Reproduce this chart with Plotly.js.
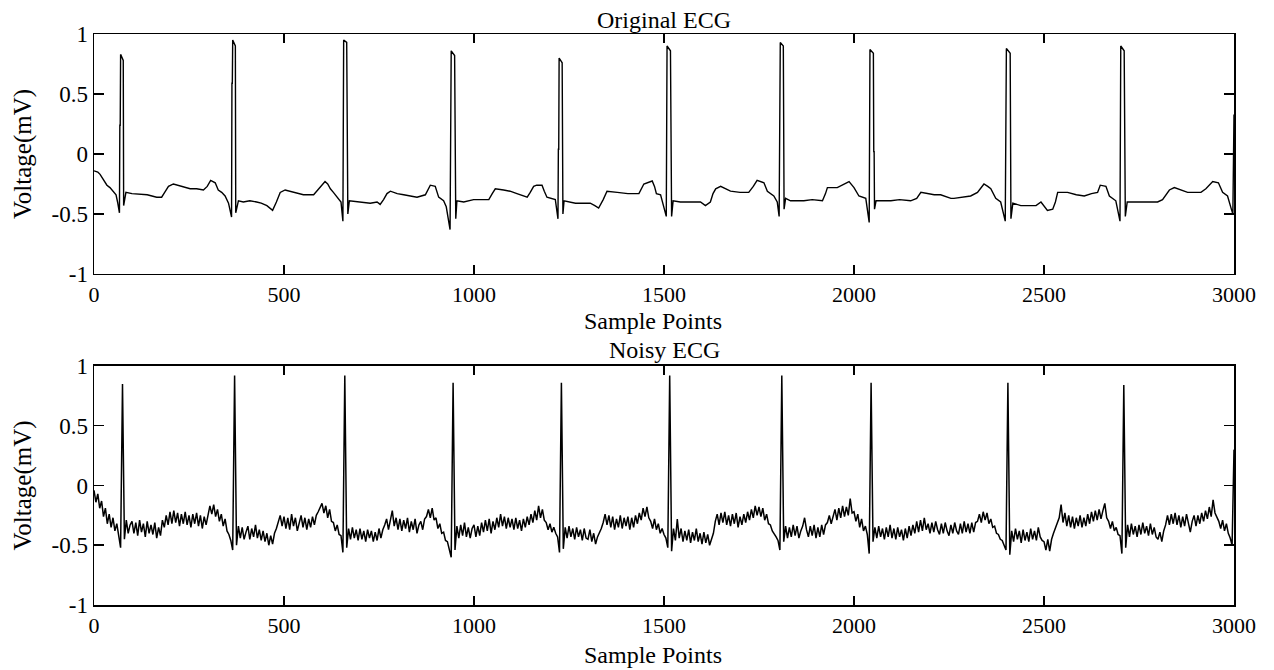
<!DOCTYPE html>
<html><head><meta charset="utf-8">
<script src="https://cdn.plot.ly/plotly-3.0.1.min.js"></script>
<style>html,body{margin:0;padding:0;background:#fff;}#chart{width:1274px;height:670px;}</style>
</head><body><div id="chart"></div>
<script>
const originalTitle = 'Original ECG';
const noisyTitle = 'Noisy ECG';
const xTitle = 'Sample Points';
const yTitle = 'Voltage(mV)';
const xTickVals = [0, 500, 1000, 1500, 2000, 2500, 3000];
const xTickText = ['0', '500', '1000', '1500', '2000', '2500', '3000'];
const yTickVals = [-1, -0.5, 0, 0.5, 1];
const yTickText = ['-1', '-0.5', '0', '0.5', '1'];

// Original ECG: key points (sample index, mV)
const origX = [
  0, 10, 16, 25, 34, 42, 50, 58, 62, 67, 68, 69, 70, 77, 78, 81, 84, 100, 121, 140, 165, 178, 186, 196, 209, 230, 253, 270, 288, 298,
  307, 319, 327, 336, 345, 354, 362, 363, 364, 365, 372, 373, 377, 380, 393, 410, 428, 440, 455, 470, 480, 490, 503, 516, 535, 551, 578, 586, 595, 608,
  615, 622, 630, 639, 650, 655, 657, 665, 666, 667, 668, 672, 701, 727, 745, 753, 762, 771, 780, 798, 815, 832, 850, 872, 880, 885, 898, 903, 907, 920,
  927, 937, 940, 949, 950, 951, 952, 955, 973, 999, 1020, 1039, 1048, 1056, 1078, 1095, 1113, 1140, 1148, 1157, 1165, 1179, 1185, 1192, 1214, 1221, 1222, 1223, 1224, 1232,
  1234, 1237, 1267, 1306, 1318, 1328, 1340, 1350, 1377, 1405, 1434, 1442, 1447, 1469, 1475, 1480, 1491, 1506, 1508, 1517, 1518, 1519, 1520, 1524, 1543, 1570, 1596, 1609, 1622, 1629,
  1636, 1649, 1675, 1700, 1723, 1735, 1745, 1763, 1772, 1789, 1798, 1803, 1804, 1805, 1806, 1814, 1816, 1820, 1833, 1850, 1868, 1890, 1917, 1925, 1930, 1956, 1975, 1987, 2000, 2013,
  2031, 2040, 2042, 2051, 2052, 2053, 2054, 2058, 2097, 2120, 2149, 2165, 2176, 2211, 2228, 2255, 2263, 2285, 2307, 2325, 2342, 2352, 2360, 2373, 2386, 2398, 2399, 2400, 2401, 2411,
  2413, 2418, 2439, 2460, 2479, 2492, 2500, 2509, 2523, 2530, 2536, 2562, 2585, 2606, 2625, 2641, 2648, 2663, 2672, 2689, 2700, 2702, 2711, 2712, 2713, 2714, 2719, 2742, 2770, 2799,
  2812, 2830, 2843, 2878, 2913, 2926, 2944, 2959, 2970, 2983, 2994, 2997, 3000
];
const origY = [
  -0.14, -0.15, -0.17, -0.22, -0.26, -0.28, -0.31, -0.34, -0.40, -0.49, 0.24, 0.24, 0.83, 0.78, -0.43, -0.38, -0.32, -0.33, -0.335, -0.34, -0.36, -0.36, -0.32, -0.27, -0.25, -0.27, -0.29, -0.29, -0.30, -0.27,
  -0.22, -0.24, -0.30, -0.32, -0.35, -0.41, -0.525, 0.59, 0.59, 0.95, 0.90, -0.49, -0.42, -0.39, -0.40, -0.39, -0.40, -0.41, -0.43, -0.47, -0.40, -0.32, -0.30, -0.31, -0.33, -0.34, -0.34, -0.31, -0.27, -0.23,
  -0.25, -0.29, -0.32, -0.36, -0.40, -0.56, 0.95, 0.93, 0.22, 0.22, -0.50, -0.39, -0.40, -0.41, -0.40, -0.42, -0.38, -0.33, -0.31, -0.33, -0.34, -0.35, -0.36, -0.34, -0.29, -0.26, -0.27, -0.32, -0.36, -0.39,
  -0.44, -0.63, 0.86, 0.82, -0.12, -0.12, -0.54, -0.39, -0.40, -0.38, -0.38, -0.38, -0.33, -0.29, -0.30, -0.31, -0.33, -0.36, -0.32, -0.27, -0.26, -0.26, -0.31, -0.36, -0.38, -0.54, 0.04, 0.04, 0.80, 0.76,
  -0.50, -0.39, -0.41, -0.41, -0.43, -0.45, -0.38, -0.31, -0.32, -0.33, -0.33, -0.28, -0.25, -0.225, -0.27, -0.33, -0.34, -0.52, 0.90, 0.86, 0.40, 0.40, -0.52, -0.39, -0.40, -0.40, -0.40, -0.43, -0.40, -0.33,
  -0.29, -0.27, -0.31, -0.32, -0.32, -0.27, -0.22, -0.24, -0.31, -0.35, -0.40, -0.52, 0.40, 0.40, 0.93, 0.90, -0.46, -0.37, -0.39, -0.39, -0.39, -0.38, -0.39, -0.33, -0.28, -0.28, -0.25, -0.23, -0.28, -0.35,
  -0.37, -0.57, 0.87, 0.84, 0.02, 0.02, -0.46, -0.39, -0.39, -0.38, -0.39, -0.37, -0.32, -0.34, -0.34, -0.37, -0.37, -0.36, -0.35, -0.32, -0.25, -0.27, -0.29, -0.37, -0.40, -0.56, 0.09, 0.09, 0.88, 0.84,
  -0.54, -0.41, -0.43, -0.43, -0.43, -0.40, -0.43, -0.47, -0.46, -0.40, -0.32, -0.32, -0.34, -0.35, -0.33, -0.32, -0.26, -0.27, -0.35, -0.39, -0.56, 0.90, 0.86, -0.11, -0.11, -0.52, -0.40, -0.40, -0.40, -0.40,
  -0.38, -0.30, -0.28, -0.32, -0.32, -0.29, -0.23, -0.24, -0.32, -0.35, -0.47, -0.50, 0.33
];

// Noisy ECG: values read every 5 samples from the picture (mV)
const noisyStep = 5;
const noisyY = [
  -0.04, -0.14, -0.07, -0.19, -0.13, -0.26, -0.19, -0.32, -0.24, -0.35, -0.27, -0.38, -0.32, -0.41, -0.52, 0.85, -0.45, -0.29, -0.40, -0.33,
  -0.30, -0.40, -0.31, -0.42, -0.29, -0.39, -0.32, -0.43, -0.30, -0.40, -0.33, -0.41, -0.31, -0.44, -0.35, -0.42, -0.29, -0.35, -0.25, -0.33,
  -0.22, -0.32, -0.21, -0.31, -0.23, -0.34, -0.24, -0.32, -0.22, -0.33, -0.25, -0.35, -0.24, -0.32, -0.23, -0.34, -0.25, -0.36, -0.26, -0.33,
  -0.25, -0.17, -0.24, -0.16, -0.26, -0.20, -0.30, -0.24, -0.34, -0.28, -0.38, -0.41, -0.46, -0.54, 0.92, -0.50, -0.34, -0.44, -0.35, -0.45,
  -0.39, -0.34, -0.45, -0.36, -0.43, -0.33, -0.44, -0.37, -0.46, -0.38, -0.47, -0.40, -0.50, -0.42, -0.49, -0.40, -0.36, -0.30, -0.25, -0.34,
  -0.26, -0.36, -0.27, -0.37, -0.24, -0.34, -0.27, -0.38, -0.30, -0.25, -0.35, -0.27, -0.37, -0.28, -0.35, -0.26, -0.33, -0.25, -0.22, -0.18,
  -0.15, -0.23, -0.17, -0.27, -0.20, -0.30, -0.31, -0.38, -0.33, -0.41, -0.42, -0.56, 0.92, -0.52, -0.36, -0.45, -0.35, -0.44, -0.37, -0.46,
  -0.36, -0.45, -0.38, -0.47, -0.37, -0.44, -0.38, -0.47, -0.39, -0.46, -0.36, -0.44, -0.37, -0.33, -0.28, -0.37, -0.29, -0.21, -0.34, -0.27,
  -0.37, -0.28, -0.38, -0.29, -0.36, -0.27, -0.39, -0.30, -0.37, -0.28, -0.40, -0.33, -0.30, -0.37, -0.28, -0.26, -0.20, -0.27, -0.19, -0.29,
  -0.27, -0.36, -0.32, -0.40, -0.39, -0.46, -0.47, -0.53, -0.60, 0.86, -0.54, -0.34, -0.44, -0.33, -0.42, -0.31, -0.43, -0.35, -0.44, -0.36,
  -0.33, -0.43, -0.34, -0.42, -0.31, -0.39, -0.29, -0.38, -0.28, -0.40, -0.30, -0.37, -0.27, -0.35, -0.24, -0.34, -0.26, -0.36, -0.27, -0.35,
  -0.28, -0.37, -0.27, -0.36, -0.29, -0.38, -0.28, -0.35, -0.26, -0.33, -0.24, -0.31, -0.21, -0.29, -0.17, -0.27, -0.20, -0.29, -0.31, -0.37,
  -0.32, -0.39, -0.35, -0.40, -0.43, -0.56, 0.86, -0.53, -0.35, -0.44, -0.34, -0.43, -0.36, -0.45, -0.35, -0.43, -0.37, -0.46, -0.36, -0.44,
  -0.45, -0.37, -0.47, -0.40, -0.49, -0.43, -0.40, -0.36, -0.31, -0.24, -0.33, -0.25, -0.35, -0.26, -0.37, -0.28, -0.35, -0.25, -0.36, -0.27,
  -0.34, -0.26, -0.37, -0.27, -0.35, -0.25, -0.32, -0.23, -0.29, -0.19, -0.26, -0.18, -0.27, -0.30, -0.36, -0.28, -0.37, -0.32, -0.40, -0.36,
  -0.41, -0.44, -0.52, 0.92, -0.55, -0.36, -0.46, -0.28, -0.44, -0.36, -0.47, -0.38, -0.46, -0.37, -0.48, -0.39, -0.46, -0.36, -0.47, -0.40,
  -0.49, -0.39, -0.48, -0.41, -0.50, -0.45, -0.40, -0.30, -0.24, -0.33, -0.23, -0.31, -0.22, -0.33, -0.25, -0.34, -0.24, -0.32, -0.23, -0.35,
  -0.26, -0.33, -0.24, -0.31, -0.22, -0.29, -0.20, -0.27, -0.17, -0.25, -0.18, -0.26, -0.19, -0.29, -0.24, -0.32, -0.33, -0.38, -0.40, -0.43,
  -0.46, -0.54, 0.92, -0.47, -0.34, -0.44, -0.35, -0.43, -0.33, -0.42, -0.34, -0.44, -0.38, -0.34, -0.27, -0.37, -0.43, -0.34, -0.42, -0.33,
  -0.44, -0.35, -0.43, -0.33, -0.41, -0.33, -0.31, -0.25, -0.32, -0.26, -0.20, -0.29, -0.19, -0.27, -0.17, -0.26, -0.18, -0.25, -0.11, -0.23,
  -0.22, -0.30, -0.24, -0.35, -0.28, -0.38, -0.34, -0.41, -0.57, 0.86, -0.47, -0.35, -0.44, -0.34, -0.43, -0.36, -0.45, -0.35, -0.43, -0.33,
  -0.44, -0.36, -0.45, -0.35, -0.43, -0.37, -0.46, -0.36, -0.44, -0.34, -0.42, -0.33, -0.40, -0.30, -0.39, -0.29, -0.38, -0.27, -0.37, -0.32,
  -0.40, -0.31, -0.39, -0.30, -0.37, -0.41, -0.32, -0.40, -0.31, -0.38, -0.42, -0.33, -0.40, -0.31, -0.38, -0.41, -0.32, -0.40, -0.30, -0.39,
  -0.32, -0.40, -0.31, -0.39, -0.31, -0.30, -0.24, -0.31, -0.22, -0.29, -0.23, -0.32, -0.28, -0.35, -0.34, -0.40, -0.41, -0.45, -0.46, -0.50,
  -0.54, 0.86, -0.58, -0.38, -0.47, -0.36, -0.45, -0.38, -0.48, -0.37, -0.46, -0.39, -0.47, -0.36, -0.45, -0.38, -0.46, -0.35, -0.43, -0.46,
  -0.47, -0.54, -0.45, -0.55, -0.45, -0.40, -0.36, -0.31, -0.27, -0.16, -0.31, -0.23, -0.34, -0.25, -0.35, -0.26, -0.36, -0.27, -0.34, -0.25,
  -0.35, -0.27, -0.34, -0.24, -0.32, -0.22, -0.30, -0.21, -0.29, -0.20, -0.28, -0.21, -0.15, -0.27, -0.30, -0.36, -0.30, -0.38, -0.35, -0.41,
  -0.42, -0.57, 0.84, -0.52, -0.33, -0.43, -0.32, -0.41, -0.34, -0.43, -0.33, -0.41, -0.31, -0.40, -0.34, -0.42, -0.32, -0.41, -0.35, -0.43,
  -0.45, -0.39, -0.47, -0.38, -0.33, -0.25, -0.33, -0.24, -0.32, -0.23, -0.33, -0.25, -0.35, -0.26, -0.34, -0.24, -0.31, -0.39, -0.30, -0.25,
  -0.34, -0.25, -0.32, -0.23, -0.30, -0.21, -0.28, -0.18, -0.26, -0.12, -0.23, -0.26, -0.30, -0.36, -0.29, -0.38, -0.32, -0.40, -0.44, -0.50,
  0.30
];
const noisyX = noisyY.map((_, i) => i * noisyStep);

const FONT = 'Liberation Serif, Times New Roman, serif';
function xAxis(anchor) {
  return {
    anchor: anchor, range: [0, 3000], tickmode: 'array', tickvals: xTickVals, ticktext: xTickText,
    ticks: 'inside', ticklen: 9, tickwidth: 1.5, tickcolor: '#000',
    showline: true, linecolor: '#000', linewidth: 1.5, mirror: 'ticks',
    showgrid: false, zeroline: false, automargin: false,
    tickfont: {family: FONT, size: 22, color: '#000'},
    title: {text: ''}
  };
}
function yAxis(anchor, domain) {
  return {
    anchor: anchor, domain: domain, range: [-1, 1], tickmode: 'array', tickvals: yTickVals, ticktext: yTickText,
    ticks: 'inside', ticklen: 10, tickwidth: 1.5, tickcolor: '#000',
    showline: true, linecolor: '#000', linewidth: 1.5, mirror: 'ticks',
    showgrid: false, zeroline: false, automargin: false,
    tickfont: {family: FONT, size: 23, color: '#000'},
    title: {text: yTitle, font: {family: FONT, size: 25, color: '#000'}, standoff: 12}
  };
}

const traces = [
  {x: origX, y: origY, xaxis: 'x', yaxis: 'y', type: 'scatter', mode: 'lines',
   line: {color: '#000', width: 1.4}, hoverinfo: 'skip'},
  {x: noisyX, y: noisyY, xaxis: 'x2', yaxis: 'y2', type: 'scatter', mode: 'lines',
   line: {color: '#000', width: 1.5}, hoverinfo: 'skip'}
];

const titleFont = {family: FONT, size: 24, color: '#000'};
const layout = {
  width: 1274, height: 670,
  paper_bgcolor: '#fff', plot_bgcolor: '#fff',
  margin: {l: 94, r: 40, t: 34, b: 65},
  showlegend: false,
  font: {family: FONT, color: '#000'},
  title: {text: originalTitle, font: titleFont,
          x: 0.5, xref: 'paper', xanchor: 'center', y: 1 - 20 / 670, yref: 'container', yanchor: 'middle'},
  xaxis: xAxis('y'),
  yaxis: yAxis('x', [0.5797, 1]),
  xaxis2: xAxis('y2'),
  yaxis2: yAxis('x2', [0, 0.4186]),
  annotations: [
    {text: noisyTitle, xref: 'paper', yref: 'paper', x: 0.5, y: (605 - 350) / 571,
     xanchor: 'center', yanchor: 'middle', showarrow: false, font: titleFont},
    {text: xTitle, xref: 'paper', yref: 'paper', x: 0.49, y: (605 - 321) / 571,
     xanchor: 'center', yanchor: 'middle', showarrow: false, font: titleFont},
    {text: xTitle, xref: 'paper', yref: 'paper', x: 0.49, y: (605 - 655) / 571,
     xanchor: 'center', yanchor: 'middle', showarrow: false, font: titleFont}
  ]
};

Plotly.newPlot('chart', traces, layout, {displayModeBar: false, staticPlot: true});
</script>
</body></html>
